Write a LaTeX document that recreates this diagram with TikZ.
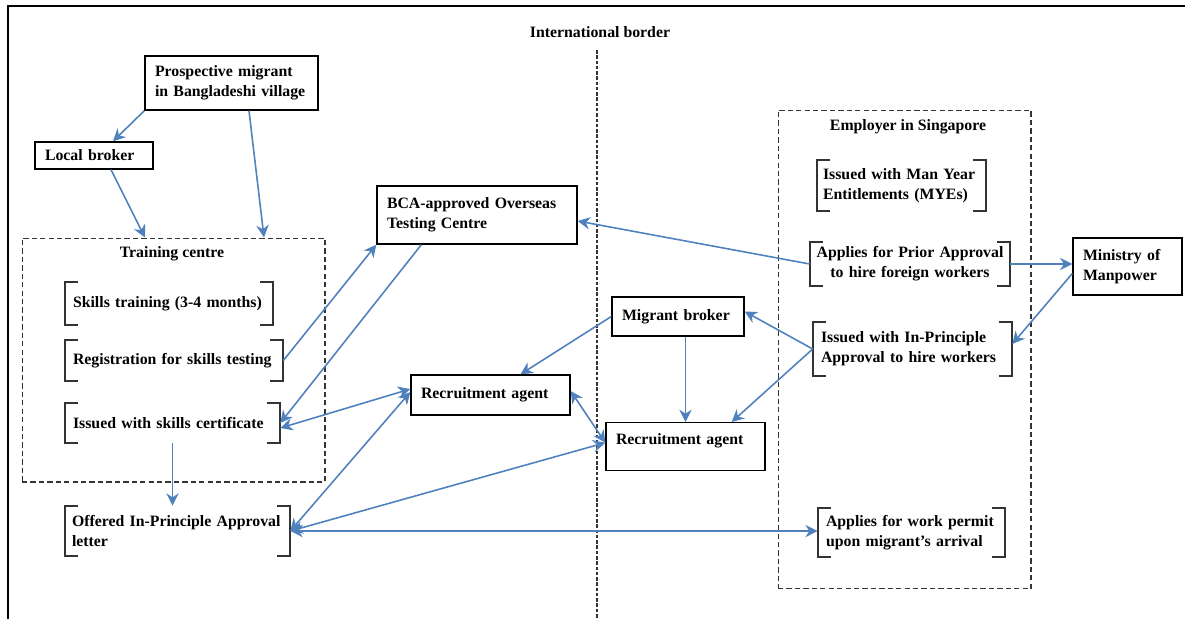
\documentclass[tikz,border=0pt]{standalone}
\usepackage{fontspec}
\setmainfont{Liberation Serif}
\usetikzlibrary{calc,arrows.meta}

\definecolor{flowblue}{RGB}{79,129,189}
\definecolor{inkgray}{RGB}{51,51,51}

\begin{document}
\begin{tikzpicture}[x=0.02cm, y=-0.02cm,
	txt/.style={font=\bfseries\fontsize{9}{11.3}\selectfont},
	plainbox/.style={txt, draw, line width=0.8pt, align=left, inner xsep=0.2cm, inner ysep=0pt},
	itembox/.style={txt, align=left, inner xsep=0.16cm, inner ysep=0pt},
	groupbox/.style={draw=inkgray, line width=0.6pt, dash pattern=on 3pt off 1.8pt, inner sep=0pt},
	brk/.style={draw=inkgray, line width=1pt},
	flow/.style={draw=flowblue, line width=0.9pt, -{Stealth[length=7pt,width=7pt]}},
	twoway/.style={flow, {Stealth[length=7pt,width=7pt]}-{Stealth[length=7pt,width=7pt]}},
	borderline/.style={draw=inkgray, line width=1pt, dash pattern=on 2pt off 1pt}]

% frame and bounding box %{{{2

	\useasboundingbox (0,0) rectangle (1185,619);
	\draw[line width=1.2pt] (8,619) -- (8,6) -- (1185,6);

% international border %{{{2

	\node[txt] (btitle) at (600,32) {International border};
	\coordinate (btop) at (597,50);
	\coordinate (bbot) at (597,619);
	\draw[borderline] (btop) -- (bbot);

% containers %{{{2

	\node[groupbox, minimum width=6.06cm, minimum height=4.88cm] (training) at (173.5,360) {};
	\node[txt] (ttitle) at (172,254) {Training centre};

	\node[groupbox, minimum width=5.06cm, minimum height=9.58cm] (employer) at (904.5,349.5) {};
	\node[txt] (etitle) at (908,127) {Employer in Singapore};

% boxes %{{{2

	\node[plainbox, text width=3.06cm, minimum height=1.08cm] (migrant) at (231.5,83)
		{Prospective migrant\\in Bangladeshi village};
	\node[plainbox, text width=1.96cm, minimum height=0.54cm] (lbroker) at (94,155.5)
		{Local broker};
	\node[plainbox, text width=3.6cm, minimum height=1.16cm] (bca) at (477,215)
		{BCA-approved Overseas\\Testing Centre};
	\node[plainbox, text width=2.78cm, minimum height=0.8cm] (ra1) at (490.5,395)
		{Recruitment agent};
	\node[plainbox, text width=2.78cm, minimum height=0.96cm, text height=0.4cm, text depth=0.5cm,
		anchor=north] (ra2) at (685.5,422) {Recruitment agent};
	\node[plainbox, text width=2.24cm, minimum height=0.78cm] (broker) at (678,316.5)
		{Migrant broker};
	\node[plainbox, text width=1.78cm, minimum height=1.14cm] (ministry) at (1127.5,266.5)
		{Ministry of\\Manpower};

% bracketed steps %{{{2

	\node[itembox, text width=3.84cm, minimum height=0.86cm] (skills) at (169,303.5)
		{Skills training (3-4 months)};
	\node[itembox, text width=4.04cm, minimum height=0.82cm] (regist) at (174,360.5)
		{Registration for skills testing};
	\node[itembox, text width=3.98cm, minimum height=0.8cm] (cert) at (172.5,423)
		{Issued with skills certificate};
	\node[itembox, text width=4.22cm, inner xsep=0.14cm, minimum height=1.0cm] (offered) at (177.5,531)
		{Offered In-Principle Approval\\letter};

	\node[itembox, text width=3.14cm, inner xsep=0.12cm, minimum height=1.02cm] (myes) at (901.5,185.5)
		{Issued with Man Year\\Entitlements (MYEs)};
	\node[itembox, align=center, text width=3.76cm, inner xsep=0.12cm, minimum height=0.88cm] (prior) at (910,264)
		{Applies for Prior Approval\\to hire foreign workers};
	\node[itembox, text width=3.66cm, minimum height=1.08cm] (ipa) at (912.5,349)
		{Issued with In-Principle\\Approval to hire workers};
	\node[itembox, text width=3.42cm, minimum height=0.98cm] (permit) at (911.5,532.5)
		{Applies for work permit\\upon migrant's arrival};

	\foreach \n in {skills,regist,cert,offered,myes,prior,ipa,permit} {
		\draw[brk] ($(\n.north west)+(13,0)$) -| (\n.south west) -- ++(13,0)
			($(\n.north east)+(-13,0)$) -| (\n.south east) -- ++(-13,0);
	}

% connectors, sending side %{{{2

	\draw[flow] (migrant.south west) -- ($(lbroker.north)+(19,0)$);
	\draw[flow] ($(migrant.south)+(17.5,0)$) -- ($(training.north)+(90.5,0)$);
	\draw[flow] ($(lbroker.south)+(17,0)$) -- ($(training.north)+(-28.5,0)$);

	\draw[flow] (regist.east) -- (bca.south west);
	\draw[flow] ($(bca.south west)+(45,0)$) -- (cert.east);
	\draw[flow] (cert.south) -- (cert.south |- offered.north);

	\draw[twoway] ($(cert.east)+(0,5)$) -- ($(ra1.west)+(0,-6)$);
	\draw[twoway] (offered.east) -- ($(ra1.west)+(0,-3)$);
	\draw[twoway] (offered.east) -- ($(ra2.west)+(0,-4)$);
	\draw[twoway] (offered.east) -- (permit.west |- offered.east);

% connectors, receiving side %{{{2

	\draw[flow] (broker.west) -- ($(ra1.north)+(30,0)$);
	\draw[flow] (ra2.north |- broker.south) -- (ra2.north);
	\draw[twoway] ($(ra1.east)+(0,-4)$) -- ($(ra2.west)+(0,-4)$);

	\draw[flow] (prior.west) -- ($(bca.east)+(0,6)$);
	\draw[flow] (prior.east) -- (ministry.west |- prior.east);
	\draw[flow] ($(ministry.west)+(0,7)$) -- ($(ipa.east)+(0,-5)$);
	\draw[flow] (ipa.west) -- ($(broker.east)+(0,-5)$);
	\draw[flow] (ipa.west) -- ($(ra2.north east)+(-34,0)$);

% closing %{{{2

\end{tikzpicture}
\end{document}
